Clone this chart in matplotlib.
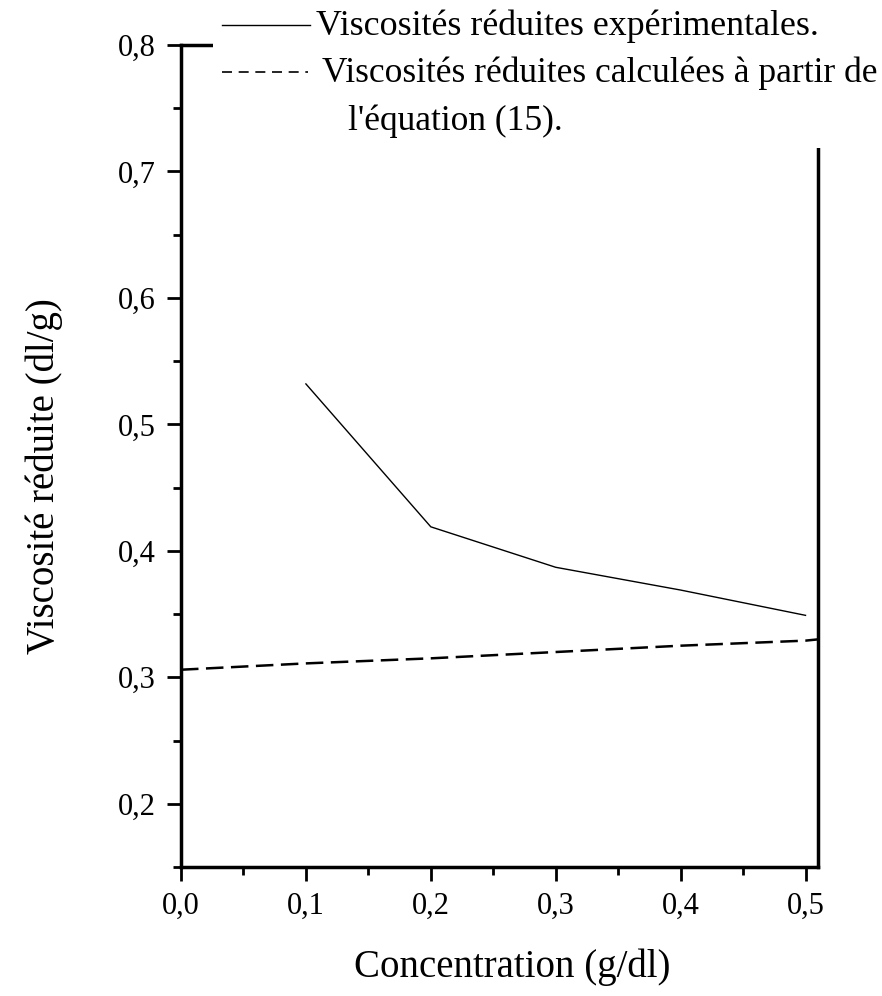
import matplotlib
matplotlib.use('Agg')
import matplotlib.pyplot as plt
from matplotlib.lines import Line2D
from matplotlib.patches import Rectangle
from matplotlib.ticker import MultipleLocator

plt.rcParams['font.family'] = ['Liberation Serif', 'DejaVu Serif']

# reduced viscosity vs concentration
conc_exp = [0.1, 0.2, 0.3, 0.4, 0.5]
visc_exp = [0.532, 0.419, 0.387, 0.369, 0.349]
conc_calc = [0.0, 0.1, 0.2, 0.3, 0.4, 0.5, 0.51]
visc_calc = [0.306, 0.311, 0.315, 0.320, 0.325, 0.329, 0.330]

xticks = [0.0, 0.1, 0.2, 0.3, 0.4, 0.5]
xticklabels = ['0,0', '0,1', '0,2', '0,3', '0,4', '0,5']
yticks = [0.2, 0.3, 0.4, 0.5, 0.6, 0.7, 0.8]
yticklabels = ['0,2', '0,3', '0,4', '0,5', '0,6', '0,7', '0,8']

W, H = 882, 996
fig = plt.figure(figsize=(W / 100, H / 100), dpi=100)
ax = fig.add_axes([181 / W, 1 - 867 / H, (818 - 181) / W, (867 - 45) / H])

ax.plot(conc_exp, visc_exp, color='black', lw=1.0)
ax.plot(conc_calc, visc_calc, color='black', lw=1.8, ls=(0, (7, 3)))

ax.set_xlim(0, 0.51)
ax.set_ylim(0.15, 0.8)
ax.set_xticks(xticks)
ax.set_xticklabels(xticklabels)
ax.set_yticks(yticks)
ax.set_yticklabels(yticklabels)
ax.xaxis.set_minor_locator(MultipleLocator(0.05))
ax.yaxis.set_minor_locator(MultipleLocator(0.05))
ax.tick_params(which='major', direction='out', length=10, width=2, labelsize=22, pad=8)
ax.tick_params(which='minor', direction='out', length=6, width=2)
for s in ax.spines.values():
    s.set_linewidth(2.5)

ax.set_xlabel('Concentration (g/dl)', fontsize=28, labelpad=20)
ax.set_ylabel('Viscosité réduite (dl/g)', fontsize=28, labelpad=40)
ax.xaxis.label.set_x(0.52)
ax.yaxis.label.set_y(0.475)

# legend block drawn over the top-right of the frame
fig.patches.append(Rectangle((213 / W, 1 - 148 / H), 1, 148 / H,
                             transform=fig.transFigure, facecolor='white',
                             edgecolor='none', zorder=5))
fig.add_artist(Line2D([222 / W, 310 / W], [1 - 25 / H, 1 - 25 / H],
                      color='black', lw=1.0, zorder=6))
fig.add_artist(Line2D([222 / W, 308 / W], [1 - 72 / H, 1 - 72 / H],
                      color='black', lw=1.2, ls=(0, (6, 4)), zorder=6))
fig.text(316 / W, 1 - 26 / H, 'Viscosités réduites expérimentales.',
         fontsize=25.8, va='center', ha='left', zorder=7)
fig.text(322 / W, 1 - 73 / H, 'Viscosités réduites calculées à partir de',
         fontsize=25.5, va='center', ha='left', zorder=7)
fig.text(348 / W, 1 - 121 / H, "l'équation (15).",
         fontsize=25.5, va='center', ha='left', zorder=7)

fig.savefig('out.png', dpi=100)
